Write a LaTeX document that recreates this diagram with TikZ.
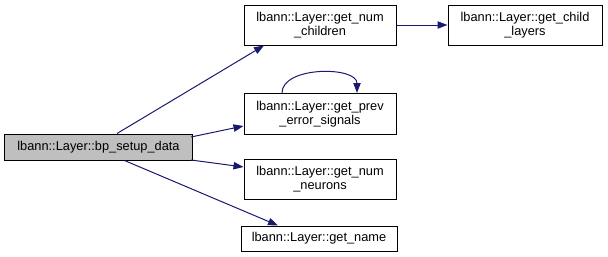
\documentclass[tikz,border=0pt]{standalone}
\usepackage{fontspec}
\setmainfont{Liberation Sans}
\usetikzlibrary{arrows.meta,calc}
\definecolor{edgeblue}{HTML}{191970}
\definecolor{rootgray}{HTML}{BFBFBF}
\begin{document}
\begin{tikzpicture}[x=0.75pt,y=-0.75pt]

\tikzset{call box/.style={draw=black,line width=0.75pt,fill=white,inner sep=0pt,
    align=center,font=\fontsize{9.6}{10.6}\selectfont},
  call edge/.style={draw=edgeblue,line width=0.75pt,
    -{Triangle[length=7.5pt,width=5.5pt]}}}

\useasboundingbox (0,0) rectangle (608,257);

%% Functions
\node[call box,fill=rootgray,minimum width=141pt,minimum height=19.5pt] (bp_setup) at (98.5,147) {lbann::Layer::bp\_setup\_data};
\node[call box,minimum width=114pt,minimum height=30pt] (num_children) at (320,25) {lbann::Layer::get\_num\\\_children};
\node[call box,minimum width=115.5pt,minimum height=30pt] (child_layers) at (525,25) {lbann::Layer::get\_child\\\_layers};
\node[call box,minimum width=114pt,minimum height=30.75pt] (prev_error) at (320,114) {lbann::Layer::get\_prev\\\_error\_signals};
\node[call box,minimum width=114pt,minimum height=30pt] (num_neurons) at (320,179.5) {lbann::Layer::get\_num\\\_neurons};
\node[call box,minimum width=117pt,minimum height=18.75pt] (get_name) at (319,238.5) {lbann::Layer::get\_name};

%% Calls
\draw[call edge] ($(bp_setup.north)+(18.5,0)$) -- ($(num_children.south)+(-56,0)$);
\draw[call edge] ($(bp_setup.east)+(-2,-10)$) -- ($(prev_error.west)+(0,12)$);
\draw[call edge] ($(bp_setup.east)+(-2,13)$) -- ($(num_neurons.west)+(0,-12.5)$);
\draw[call edge] ($(bp_setup.south)+(26,0)$) -- ($(get_name.north)+(-41,0)$);
\draw[call edge] (num_children) -- (child_layers);

% recursive call
\draw[call edge] ($(prev_error.north)+(-38,0)$)
  .. controls ($(prev_error.north)+(-38,-27)$) and ($(prev_error.north)+(37,-27)$)
  .. ($(prev_error.north)+(37,0)$);

\end{tikzpicture}
\end{document}
